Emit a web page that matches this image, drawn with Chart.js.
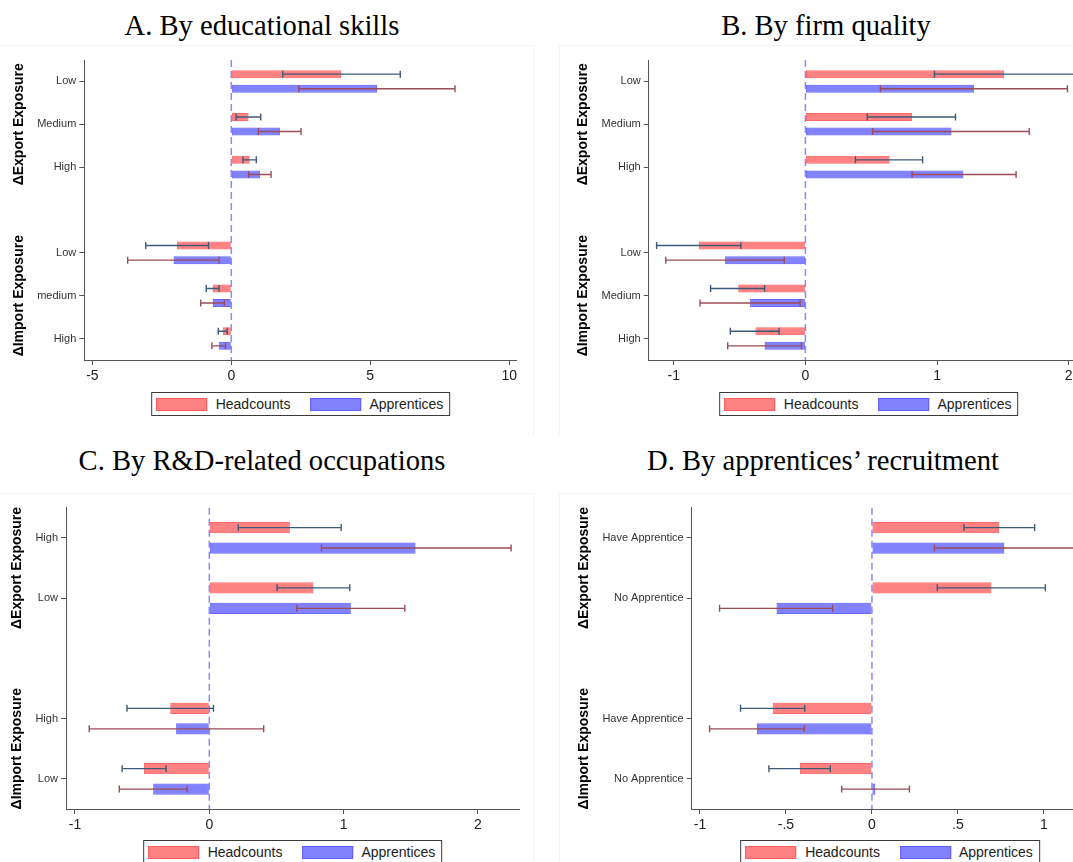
<!DOCTYPE html>
<html><head><meta charset="utf-8">
<script src="https://cdn.jsdelivr.net/npm/chart.js@4.4.0/dist/chart.umd.min.js"></script>
<style>
html,body{margin:0;padding:0;background:#fff;width:1073px;height:862px;overflow:hidden;position:relative;}
.title{position:absolute;font-family:'Liberation Serif','Times New Roman',serif;font-size:28.6px;color:#000;white-space:nowrap;transform:translate(-50%,-50%);}
canvas{position:absolute;}
.legend{position:absolute;border:1px solid #3a3a3a;display:flex;align-items:center;height:22px;padding:0 6px 0 4px;font-family:'Liberation Sans',Arial,sans-serif;font-size:14px;color:#222;background:#fff;white-space:nowrap;transform:translateX(-50%);}
.sw{display:inline-block;width:49px;height:11px;border:1px solid;}
.frame{position:absolute;background:#f3f3f3;}
</style></head><body>
<div class="frame" style="left:0;top:45px;width:533px;height:1px"></div>
<div class="frame" style="left:533px;top:45px;width:1px;height:390px"></div>
<div class="frame" style="left:559px;top:45px;width:514px;height:1px"></div>
<div class="frame" style="left:559px;top:45px;width:1px;height:390px"></div>
<div class="frame" style="left:0;top:493px;width:533px;height:1px"></div>
<div class="frame" style="left:533px;top:493px;width:1px;height:369px"></div>
<div class="frame" style="left:559px;top:493px;width:514px;height:1px"></div>
<div class="frame" style="left:559px;top:493px;width:1px;height:369px"></div>

<div class="title" style="left:262px;top:26px">A. By educational skills</div>
<div class="title" style="left:826px;top:26px">B. By firm quality</div>
<div class="title" style="left:262px;top:461px">C. By R&amp;D-related occupations</div>
<div class="title" style="left:823px;top:461px">D. By apprentices’ recruitment</div>

<canvas id="cA"></canvas>
<canvas id="cB"></canvas>
<canvas id="cC"></canvas>
<canvas id="cD"></canvas>
<script>
// ---------- data ----------
const seriesNames = ['Headcounts', 'Apprentices'];
const groupTitles = ['ΔExport Exposure', 'ΔImport Exposure'];

// Panel A: by educational skills
const catsA = ['Low', 'Medium', 'High', '', 'Low', 'medium', 'High'];
const headA   = [3.96, 0.62, 0.66, null, -1.96, -0.67, -0.31];
const headALo = [1.85, 0.17, 0.42, null, -3.08, -0.90, -0.47];
const headAHi = [6.08, 1.06, 0.90, null, -0.82, -0.44, -0.15];
const apprA   = [5.25, 1.75, 1.03, null, -2.08, -0.67, -0.45];
const apprALo = [2.43, 0.97, 0.62, null, -3.73, -1.10, -0.70];
const apprAHi = [8.05, 2.51, 1.43, null, -0.44, -0.25, -0.21];
const ticksA = [-5, 0, 5, 10];
const tickLabelsA = ['-5', '0', '5', '10'];

// Panel B: by firm quality
const catsB = ['Low', 'Medium', 'High', '', 'Low', 'Medium', 'High'];
const headB   = [1.51, 0.81, 0.64, null, -0.81, -0.51, -0.38];
const headBLo = [0.98, 0.47, 0.38, null, -1.13, -0.72, -0.57];
const headBHi = [2.04, 1.14, 0.89, null, -0.49, -0.31, -0.20];
const apprB   = [1.28, 1.11, 1.20, null, -0.61, -0.42, -0.31];
const apprBLo = [0.57, 0.51, 0.81, null, -1.06, -0.80, -0.59];
const apprBHi = [1.99, 1.70, 1.60, null, -0.16, -0.04, -0.03];
const ticksB = [-1, 0, 1, 2];
const tickLabelsB = ['-1', '0', '1', '2'];

// Panel C: by R&D-related occupations
const catsC = ['High', 'Low', '', 'High', 'Low'];
const headC   = [0.600, 0.776, null, -0.291, -0.487];
const headCLo = [0.216, 0.505, null, -0.613, -0.649];
const headCHi = [0.982, 1.046, null, 0.031, -0.322];
const apprC   = [1.536, 1.054, null, -0.247, -0.418];
const apprCLo = [0.835, 0.652, null, -0.894, -0.670];
const apprCHi = [2.247, 1.456, null, 0.405, -0.165];
const ticksC = [-1, 0, 1, 2];
const tickLabelsC = ['-1', '0', '1', '2'];

// Panel D: by apprentices' recruitment
const catsD = ['Have Apprentice', 'No Apprentice', '', 'Have Apprentice', 'No Apprentice'];
const headD   = [0.740, 0.695, null, -0.577, -0.419];
const headDLo = [0.535, 0.380, null, -0.764, -0.599];
const headDHi = [0.946, 1.008, null, -0.391, -0.242];
const apprD   = [0.770, -0.555, null, -0.669, 0.020];
const apprDLo = [0.363, -0.886, null, -0.944, -0.176];
const apprDHi = [1.180, -0.228, null, -0.393, 0.218];
const ticksD = [-1, -0.5, 0, 0.5, 1];
const tickLabelsD = ['-1', '-.5', '0', '.5', '1'];

// ---------- styles ----------
Chart.defaults.font.family = "'Liberation Sans', Arial, sans-serif";
Chart.defaults.animation = false;
const FILL = ['rgba(255,0,0,0.49)', 'rgba(0,0,255,0.49)'];
const EDGE = ['rgba(255,40,40,0.7)', 'rgba(40,40,255,0.7)'];
const ERR = ['#3f5a78', '#9a4c58'];
const AXIS = '#555';

const zeroLine = {
  id: 'zeroLine',
  beforeDatasetsDraw(chart) {
    const {ctx, chartArea: a, scales: {x}} = chart;
    const px = x.getPixelForValue(0);
    ctx.save();
    ctx.strokeStyle = '#8a8aff';
    ctx.lineWidth = 1.5;
    ctx.setLineDash([7, 4]);
    ctx.beginPath(); ctx.moveTo(px, a.top); ctx.lineTo(px, a.bottom); ctx.stroke();
    ctx.restore();
  }
};

const errorBars = {
  id: 'errorBars',
  afterDatasetsDraw(chart) {
    const {ctx, scales: {x}} = chart;
    chart.data.datasets.forEach((ds, di) => {
      const meta = chart.getDatasetMeta(di);
      meta.data.forEach((bar, i) => {
        const lo = ds.errLo[i], hi = ds.errHi[i];
        if (lo == null || hi == null) return;
        const y = bar.y, x1 = x.getPixelForValue(lo), x2 = x.getPixelForValue(hi);
        ctx.save();
        ctx.strokeStyle = ds.errColor; ctx.lineWidth = 1.4;
        ctx.beginPath();
        ctx.moveTo(x1, y); ctx.lineTo(x2, y);
        ctx.moveTo(x1, y - 3.5); ctx.lineTo(x1, y + 3.5);
        ctx.moveTo(x2, y - 3.5); ctx.lineTo(x2, y + 3.5);
        ctx.stroke();
        ctx.restore();
      });
    });
  }
};

const groupLabels = {
  id: 'groupLabels',
  afterDraw(chart, args, opts) {
    const {ctx, chartArea: a, scales: {y}} = chart;
    ctx.save();
    ctx.font = "11px 'Liberation Sans', Arial, sans-serif";
    const maxW = Math.max(...y.ticks.map(t => ctx.measureText(t.label || '').width));
    const xc = a.left - 8 - maxW - 18;
    ctx.font = "bold 14px 'Liberation Sans', Arial, sans-serif";
    ctx.fillStyle = '#000';
    ctx.textAlign = 'center'; ctx.textBaseline = 'middle';
    opts.groups.forEach((g, k) => {
      const yc = (y.getPixelForTick(g[0]) + y.getPixelForTick(g[1])) / 2;
      ctx.save();
      ctx.translate(xc, yc); ctx.rotate(-Math.PI / 2);
      ctx.fillText(groupTitles[k], 0, 0);
      ctx.restore();
    });
    ctx.restore();
  }
};

function makePanel(id, box, cats, series, xr, ticks, tickLabels, groups) {
  const cv = document.getElementById(id);
  cv.width = box.w; cv.height = box.h;
  cv.style.left = box.left + 'px'; cv.style.top = box.top + 'px';
  cv.style.width = box.w + 'px'; cv.style.height = box.h + 'px';
  const XH = 30;
  const datasets = series.map((s, k) => ({
    label: seriesNames[k], data: s.v, errLo: s.lo, errHi: s.hi, errColor: ERR[k],
    backgroundColor: FILL[k], borderColor: EDGE[k], borderWidth: 1, borderSkipped: false,
    categoryPercentage: 0.68, barPercentage: 0.55
  }));
  const chart = new Chart(cv, {
    type: 'bar',
    data: {labels: cats, datasets},
    options: {
      indexAxis: 'y', responsive: false, maintainAspectRatio: false,
      layout: {padding: {left: 0, top: box.a.t, right: box.w - box.a.r, bottom: box.h - box.a.b - XH}},
      plugins: {legend: {display: false}, tooltip: {enabled: false}, title: {display: false},
                groupLabels: {groups}},
      scales: {
        x: {
          type: 'linear', min: xr[0], max: xr[1],
          afterBuildTicks: s => { s.ticks = ticks.map(v => ({value: v})); },
          afterFit: s => { s.height = XH; },
          border: {display: true, color: AXIS, width: 1},
          grid: {drawOnChartArea: false, drawTicks: true, tickLength: 5, color: AXIS},
          ticks: {autoSkip: false, maxRotation: 0, padding: 3, color: '#222',
                  font: {size: 14}, callback: (v, i) => tickLabels[i]}
        },
        y: {
          type: 'category', offset: true,
          afterFit: s => { s.width = box.a.l; },
          border: {display: true, color: AXIS, width: 1},
          grid: {drawOnChartArea: false, drawTicks: true, tickLength: 5, offset: false,
                 tickColor: c => (cats[c.index] ? AXIS : 'rgba(0,0,0,0)')},
          ticks: {autoSkip: false, padding: 3, color: '#333', font: {size: 11}}
        }
      }
    },
    plugins: [zeroLine, errorBars, groupLabels]
  });
  // HTML legend centred under the plot area
  const lg = document.createElement('div');
  lg.className = 'legend';
  lg.style.left = (box.left + (chart.chartArea.left + chart.chartArea.right) / 2) + 'px';
  lg.style.top = box.legendTop + 'px';
  seriesNames.forEach((n, k) => {
    const sw = document.createElement('span');
    sw.className = 'sw';
    sw.style.background = k === 0 ? '#ff8282' : '#8282ff';
    sw.style.borderColor = k === 0 ? '#ff5c5c' : '#5c5cff';
    sw.style.marginRight = (k === 0 ? 9 : 8) + 'px';
    if (k === 1) sw.style.marginLeft = '20px';
    const tx = document.createElement('span');
    tx.textContent = n;
    lg.appendChild(sw); lg.appendChild(tx);
  });
  document.body.appendChild(lg);
  return chart;
}

const grpAB = [[0, 2], [4, 6]];
const grpCD = [[0, 1], [3, 4]];

makePanel('cA', {left: 0, top: 0, w: 536, h: 431, legendTop: 392, a: {l: 84.3, t: 60, r: 516.7, b: 360}},
  catsA, [{v: headA, lo: headALo, hi: headAHi}, {v: apprA, lo: apprALo, hi: apprAHi}],
  [-5.29, 10.27], ticksA, tickLabelsA, grpAB);
makePanel('cB', {left: 536, top: 0, w: 570, h: 431, legendTop: 392, a: {l: 112.7, t: 60, r: 552.5, b: 360}},
  catsB, [{v: headB, lo: headBLo, hi: headBHi}, {v: apprB, lo: apprBLo, hi: apprBHi}],
  [-1.19, 2.15], ticksB, tickLabelsB, grpAB);
makePanel('cC', {left: 0, top: 440, w: 536, h: 422, legendTop: 840, a: {l: 66, t: 67.7, r: 519, b: 369}},
  catsC, [{v: headC, lo: headCLo, hi: headCHi}, {v: apprC, lo: apprCLo, hi: apprCHi}],
  [-1.067, 2.306], ticksC, tickLabelsC, grpCD);
makePanel('cD', {left: 536, top: 440, w: 570, h: 422, legendTop: 840, a: {l: 155.7, t: 67.7, r: 552.3, b: 369}},
  catsD, [{v: headD, lo: headDLo, hi: headDHi}, {v: apprD, lo: apprDLo, hi: apprDHi}],
  [-1.048, 1.258], ticksD, tickLabelsD, grpCD);
</script>
</body></html>
